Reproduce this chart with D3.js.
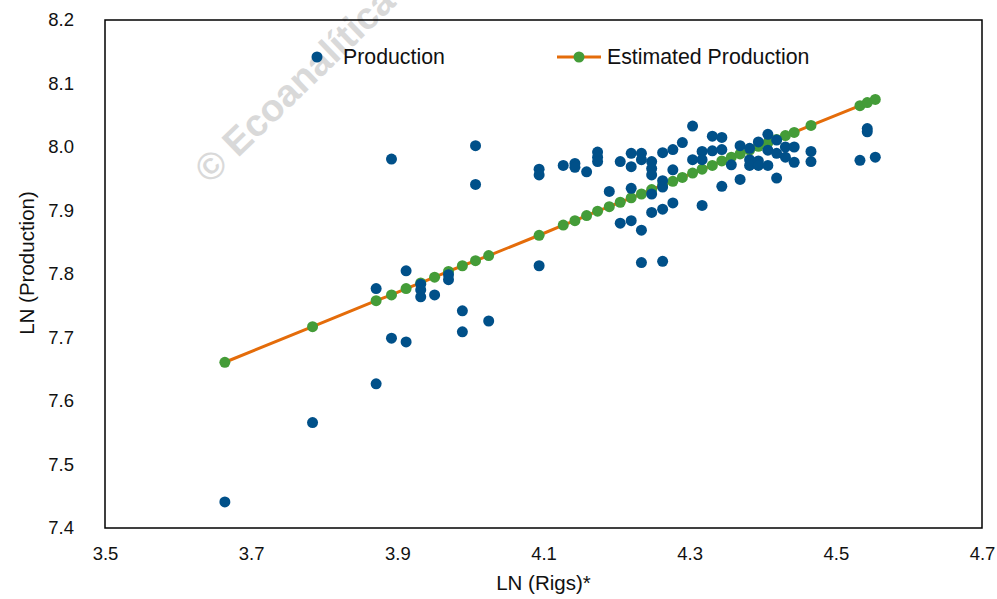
<!DOCTYPE html>
<html>
<head>
<meta charset="utf-8">
<script src="https://cdn.jsdelivr.net/npm/d3@7"></script>
<style>
  body { margin: 0; background: #fff; }
  text { font-family: "Liberation Sans", Arial, sans-serif; }
</style>
</head>
<body>
<div id="chart"></div>
<script>
// observed points: LN(rigs) and LN(production)
var rigsLn = [
  3.664,
  3.784,
  3.871, 3.871,
  3.892, 3.892,
  3.912, 3.912,
  3.932, 3.932, 3.932,
  3.951,
  3.970, 3.970,
  3.989, 3.989,
  4.007, 4.007,
  4.025,
  4.094, 4.094, 4.094,
  4.127,
  4.143, 4.143,
  4.159,
  4.174, 4.174, 4.174,
  4.190,
  4.205, 4.205,
  4.220, 4.220, 4.220, 4.220,
  4.234, 4.234, 4.234, 4.234,
  4.248, 4.248, 4.248, 4.248, 4.248,
  4.263, 4.263, 4.263, 4.263, 4.263,
  4.277, 4.277, 4.277,
  4.290,
  4.304, 4.304,
  4.317, 4.317, 4.317,
  4.331, 4.331,
  4.344, 4.344, 4.344,
  4.357,
  4.369, 4.369,
  4.382, 4.382, 4.382,
  4.394, 4.394, 4.394,
  4.407, 4.407, 4.407,
  4.419, 4.419, 4.419,
  4.431, 4.431,
  4.443, 4.443,
  4.466, 4.466,
  4.533,
  4.543, 4.543,
  4.554
];

var production = [
  7.441,
  7.566,
  7.627, 7.777,
  7.699, 7.981,
  7.693, 7.805,
  7.784, 7.775, 7.764,
  7.767,
  7.799, 7.791,
  7.742, 7.709,
  8.002, 7.941,
  7.726,
  7.965, 7.956, 7.813,
  7.971,
  7.974, 7.968,
  7.961,
  7.992, 7.984, 7.977,
  7.930,
  7.977, 7.880,
  7.990, 7.969, 7.935, 7.884,
  7.990, 7.980, 7.869, 7.818,
  7.977, 7.966, 7.956, 7.926, 7.897,
  7.991, 7.947, 7.937, 7.902, 7.820,
  7.996, 7.964, 7.912,
  8.007,
  8.033, 7.980,
  7.993, 7.980, 7.908,
  8.017, 7.994,
  8.015, 7.996, 7.938,
  7.972,
  8.002, 7.949,
  7.998, 7.980, 7.971,
  8.008, 7.978, 7.971,
  8.020, 7.995, 7.971,
  8.011, 7.990, 7.951,
  8.000, 7.984,
  8.000, 7.976,
  7.993, 7.977,
  7.979,
  8.029, 8.024,
  7.984
];

// fitted line
var fitRigsLn = [3.664, 3.784, 3.871, 3.892, 3.912, 3.932, 3.951, 3.970, 3.989, 4.007,
                 4.025, 4.094, 4.127, 4.143, 4.159, 4.174, 4.190, 4.205, 4.220, 4.234,
                 4.248, 4.263, 4.277, 4.290, 4.304, 4.317, 4.331, 4.344, 4.357, 4.369,
                 4.382, 4.394, 4.407, 4.419, 4.431, 4.443, 4.466, 4.533, 4.543, 4.554];
var estimatedProduction = [7.661, 7.717, 7.758, 7.767, 7.777, 7.786, 7.795, 7.804, 7.813, 7.821,
                           7.829, 7.861, 7.877, 7.884, 7.892, 7.899, 7.906, 7.913, 7.920, 7.926,
                           7.933, 7.940, 7.946, 7.952, 7.959, 7.965, 7.971, 7.978, 7.984, 7.989,
                           7.995, 8.001, 8.007, 8.012, 8.018, 8.023, 8.034, 8.065, 8.070, 8.075];

var xTicks = [3.5, 3.7, 3.9, 4.1, 4.3, 4.5, 4.7];
var yTicks = [7.4, 7.5, 7.6, 7.7, 7.8, 7.9, 8.0, 8.1, 8.2];
var seriesNames = ['Production', 'Estimated Production'];

var regressionChart = {

  config: {
    width: 997,
    height: 599,
    left: 105,
    right: 982,
    top: 20,
    bottom: 528,
    blue: '#005089',
    green: '#449C38',
    orange: '#E46C0A',
    r: 5.5
  },

  display: function(el) {
    this.el = el;
    this.createSvg();
    this.createScales();
    this.createWatermark();
    this.createAxes();
    this.createFit();
    this.createPoints();
    this.createFrame();
    this.createLegend();
  },

  createSvg: function() {
    this.svg = d3.select(this.el).append('svg')
                 .attr('width', this.config.width)
                 .attr('height', this.config.height);
    this.svg.append('rect')
            .attr('width', this.config.width)
            .attr('height', this.config.height)
            .attr('fill', '#fff');
  },

  createScales: function() {
    this.x = d3.scaleLinear().domain([3.5, 4.7]).range([this.config.left, this.config.right]);
    this.y = d3.scaleLinear().domain([7.4, 8.2]).range([this.config.bottom, this.config.top]);
  },

  createWatermark: function() {
    this.svg.append('text')
            .attr('transform', 'translate(210,185) rotate(-44)')
            .attr('font-size', 38)
            .attr('font-weight', 'bold')
            .attr('fill', '#d9d9d9')
            .text('\u00A9 Ecoanalítica');
  },

  createAxes: function() {
    var c = this.config;

    var xAxis = this.svg.append('g')
                    .attr('transform', 'translate(0,' + c.bottom + ')')
                    .call(d3.axisBottom(this.x).tickValues(xTicks).tickSize(0).tickPadding(19)
                            .tickFormat(d3.format('.1f')));
    var yAxis = this.svg.append('g')
                    .attr('transform', 'translate(' + c.left + ',0)')
                    .call(d3.axisLeft(this.y).tickValues(yTicks).tickSize(0).tickPadding(31)
                            .tickFormat(d3.format('.1f')));

    [xAxis, yAxis].forEach(function(g) {
      g.select('.domain').remove();
      g.selectAll('text')
       .attr('font-size', 18.5)
       .attr('font-family', '"Liberation Sans", Arial, sans-serif')
       .attr('fill', '#111');
    });

    this.svg.append('text')
            .attr('x', (c.left + c.right) / 2)
            .attr('y', 590)
            .attr('text-anchor', 'middle')
            .attr('font-size', 20.5)
            .attr('fill', '#111')
            .text('LN (Rigs)*');

    this.svg.append('text')
            .attr('transform', 'translate(34,263) rotate(-90)')
            .attr('text-anchor', 'middle')
            .attr('font-size', 20.5)
            .attr('fill', '#111')
            .text('LN (Production)');
  },

  createFit: function() {
    var fit = fitRigsLn.map(function(d, i) { return [d, estimatedProduction[i]]; });
    var line = d3.line()
                 .x((d) => this.x(d[0]))
                 .y((d) => this.y(d[1]));

    this.svg.append('path')
            .datum(fit)
            .attr('d', line)
            .attr('fill', 'none')
            .attr('stroke', this.config.orange)
            .attr('stroke-width', 3);

    this.svg.append('g')
            .selectAll('circle')
            .data(fit)
            .enter()
            .append('circle')
            .attr('cx', (d) => this.x(d[0]))
            .attr('cy', (d) => this.y(d[1]))
            .attr('r', this.config.r)
            .attr('fill', this.config.green);
  },

  createPoints: function() {
    var pts = rigsLn.map(function(d, i) { return [d, production[i]]; });

    this.svg.append('g')
            .selectAll('circle')
            .data(pts)
            .enter()
            .append('circle')
            .attr('cx', (d) => this.x(d[0]))
            .attr('cy', (d) => this.y(d[1]))
            .attr('r', this.config.r)
            .attr('fill', this.config.blue);
  },

  createFrame: function() {
    var c = this.config;
    this.svg.append('rect')
            .attr('x', c.left)
            .attr('y', c.top)
            .attr('width', c.right - c.left)
            .attr('height', c.bottom - c.top)
            .attr('fill', 'none')
            .attr('stroke', '#000')
            .attr('stroke-width', 1.5);
  },

  createLegend: function() {
    var c = this.config,
        g = this.svg.append('g').attr('font-size', 21.3).attr('fill', '#111');

    g.append('circle').attr('cx', 317).attr('cy', 57).attr('r', c.r).attr('fill', c.blue);
    g.append('text').attr('x', 343).attr('y', 64).text(seriesNames[0]);

    g.append('line').attr('x1', 557).attr('x2', 601).attr('y1', 57).attr('y2', 57)
     .attr('stroke', c.orange).attr('stroke-width', 3);
    g.append('circle').attr('cx', 579).attr('cy', 57).attr('r', c.r).attr('fill', c.green);
    g.append('text').attr('x', 607).attr('y', 64).text(seriesNames[1]);
  }

};

regressionChart.display('#chart');
</script>
</body>
</html>
